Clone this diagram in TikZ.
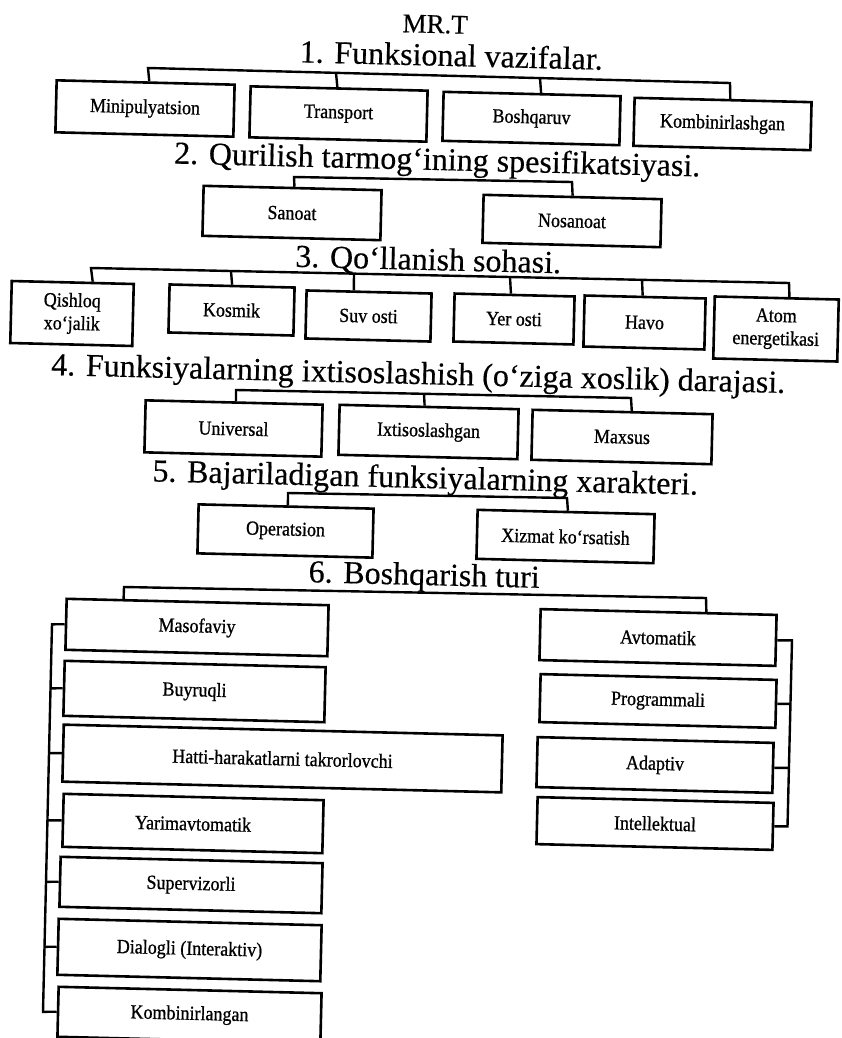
\documentclass[tikz,border=0pt]{standalone}
\usepackage{fontspec}
\usetikzlibrary{calc}
\setmainfont{Liberation Serif}
\newfontfamily\bxfont[FakeStretch=0.9,FakeBold=0.8]{Liberation Serif}
\newfontfamily\hdfont[FakeBold=0.4]{Liberation Serif}
\begin{document}
\begin{tikzpicture}[x=1pt,y=-1pt,
  box/.style={draw, line width=2.6pt, inner sep=0pt, align=center, rotate=-1.4,
    font=\bxfont\fontsize{20}{23}\selectfont},
  head/.style={anchor=base, inner sep=0pt, rotate=-1.4, font=\hdfont\fontsize{32}{34}\selectfont},
  conn/.style={line width=2.4pt}]
\path[fill=white, use as bounding box] (0,0) rectangle (842,1038);
% title
\node[head, font=\hdfont\fontsize{27}{29}\selectfont] (t0) at (435,33) {MR.T};
% ---------- 1
\node[head] (h1) at (451,66) {1. Funksional vazifalar.};
\node[box, minimum width=178pt, minimum height=52pt] (f1) at (145,108.5) {Minipulyatsion};
\node[box, minimum width=177pt, minimum height=51pt] (f2) at (338.5,114) {Transport};
\node[box, minimum width=177pt, minimum height=49pt] (f3) at (531.5,118.5) {Boshqaruv};
\node[box, minimum width=177pt, minimum height=48pt] (f4) at (722.5,124) {Kombinirlashgan};
\coordinate (c1a) at (148,68);
\coordinate (c1b) at (336,72.9);
\coordinate (c1c) at (540,78.1);
\coordinate (c1d) at (730,83);
\draw[conn] ($(f1.north west)!0.52!(f1.north east)$) -- (c1a) -- (c1d) -- ($(f4.north west)!0.54!(f4.north east)$);
\draw[conn] ($(f2.north west)!0.49!(f2.north east)$) -- (c1b);
\draw[conn] ($(f3.north west)!0.55!(f3.north east)$) -- (c1c);
% ---------- 2
\node[head] (h2) at (437,170) {2. Qurilish tarmog‘ining spesifikatsiyasi.};
\node[box, minimum width=178pt, minimum height=50pt] (s1) at (292,213) {Sanoat};
\node[box, minimum width=178pt, minimum height=48pt] (s2) at (572,221) {Nosanoat};
\coordinate (c2a) at (294,177);
\coordinate (c2b) at (572,182);
\draw[conn] ($(s1.north west)!0.51!(s1.north east)$) -- (c2a) -- (c2b) -- ($(s2.north west)!0.5!(s2.north east)$);
% ---------- 3
\node[head] (h3) at (428,270) {3. Qo‘llanish sohasi.};
\node[box, minimum width=122pt, minimum height=62pt] (q1) at (72,313.5) {Qishloq\\xo‘jalik};
\node[box, minimum width=125pt, minimum height=48pt] (q2) at (231.5,310) {Kosmik};
\node[box, minimum width=125pt, minimum height=48pt] (q3) at (368.5,316) {Suv osti};
\node[box, minimum width=120pt, minimum height=48pt] (q4) at (514,319) {Yer osti};
\node[box, minimum width=121pt, minimum height=51pt] (q5) at (644.5,322.5) {Havo};
\node[box, minimum width=124pt, minimum height=62pt] (q6) at (776,329) {Atom\\energetikasi};
\coordinate (c3a) at (91,268);
\coordinate (c3b) at (231,271);
\coordinate (c3c) at (354,273.6);
\coordinate (c3d) at (510,277);
\coordinate (c3e) at (642,279.8);
\coordinate (c3f) at (789,283);
\draw[conn] ($(q1.north west)!0.66!(q1.north east)$) -- (c3a) -- (c3f) -- ($(q6.north west)!0.6!(q6.north east)$);
\draw[conn] ($(q2.north west)!0.5!(q2.north east)$) -- (c3b);
\draw[conn] ($(q3.north west)!0.38!(q3.north east)$) -- (c3c);
\draw[conn] ($(q4.north west)!0.47!(q4.north east)$) -- (c3d);
\draw[conn] ($(q5.north west)!0.48!(q5.north east)$) -- (c3e);
% ---------- 4
\node[head] (h4) at (418,384) {4. Funksiyalarning ixtisoslashish (o‘ziga xoslik) darajasi.};
\node[box, minimum width=177pt, minimum height=52pt] (u1) at (233.5,428.5) {Universal};
\node[box, minimum width=179pt, minimum height=50pt] (u2) at (428.5,432) {Ixtisoslashgan};
\node[box, minimum width=180pt, minimum height=50pt] (u3) at (622,437) {Maxsus};
\coordinate (c4a) at (236,390);
\coordinate (c4b) at (424,393.8);
\coordinate (c4c) at (631,398);
\draw[conn] ($(u1.north west)!0.51!(u1.north east)$) -- (c4a) -- (c4c) -- ($(u3.north west)!0.55!(u3.north east)$);
\draw[conn] ($(u2.north west)!0.475!(u2.north east)$) -- (c4b);
% ---------- 5
\node[head] (h5) at (425,488) {5. Bajariladigan funksiyalarning xarakteri.};
\node[box, minimum width=175pt, minimum height=49pt] (o1) at (285.5,531) {Operatsion};
\node[box, minimum width=177pt, minimum height=49pt] (o2) at (565.5,536.5) {Xizmat ko‘rsatish};
\coordinate (c5a) at (288,493);
\coordinate (c5b) at (567,498);
\draw[conn] ($(o1.north west)!0.51!(o1.north east)$) -- (c5a) -- (c5b) -- ($(o2.north west)!0.51!(o2.north east)$);
% ---------- 6
\node[head] (h6) at (424,585) {6. Boshqarish turi};
\node[box, minimum width=262pt, minimum height=51pt] (l1) at (197,627.5) {Masofaviy};
\node[box, minimum width=261pt, minimum height=55pt] (l2) at (194.5,691.5) {Buyruqli};
\node[box, minimum width=439pt, minimum height=57pt] (l3) at (282.5,758.5) {Hatti-harakatlarni takrorlovchi};
\node[box, minimum width=260pt, minimum height=53pt] (l4) at (193,823.5) {Yarimavtomatik};
\node[box, minimum width=262pt, minimum height=50pt] (l5) at (191,885) {Supervizorli};
\node[box, minimum width=263pt, minimum height=56pt] (l6) at (189.5,950) {Dialogli (Interaktiv)};
\node[box, minimum width=263pt, minimum height=50pt] (l7) at (189.5,1015) {Kombinirlangan};
\node[box, minimum width=236pt, minimum height=51pt] (r1) at (658,637.5) {Avtomatik};
\node[box, minimum width=236pt, minimum height=48pt] (r2) at (658,701) {Programmali};
\node[box, minimum width=236pt, minimum height=50pt] (r3) at (655,765) {Adaptiv};
\node[box, minimum width=236pt, minimum height=47pt] (r4) at (655,823.5) {Intellektual};
\coordinate (c6a) at (124,587);
\coordinate (c6b) at (706,598);
\draw[conn] ($(l1.north west)!0.22!(l1.north east)$) -- (c6a) -- (c6b) -- ($(r1.north west)!0.7!(r1.north east)$);
% left spine
\coordinate (ls1) at (52,624.3);
\coordinate (ls2) at (50.5,688.3);
\coordinate (ls3) at (49,753.1);
\coordinate (ls4) at (47.5,820.3);
\coordinate (ls5) at (46,881.8);
\coordinate (ls6) at (44.5,946.8);
\coordinate (ls7) at (43,1011.8);
\draw[conn] (l1.west) -- (ls1) -- (ls7) -- (l7.west);
\draw[conn] (l2.west) -- (ls2);
\draw[conn] (l3.west) -- (ls3);
\draw[conn] (l4.west) -- (ls4);
\draw[conn] (l5.west) -- (ls5);
\draw[conn] (l6.west) -- (ls6);
% right spine
\coordinate (rs1) at (792,640.4);
\coordinate (rs2) at (790.5,703.9);
\coordinate (rs3) at (789,767.9);
\coordinate (rs4) at (787.5,826.4);
\draw[conn] (r1.east) -- (rs1) -- (rs4) -- (r4.east);
\draw[conn] (r2.east) -- (rs2);
\draw[conn] (r3.east) -- (rs3);
\end{tikzpicture}
\end{document}
